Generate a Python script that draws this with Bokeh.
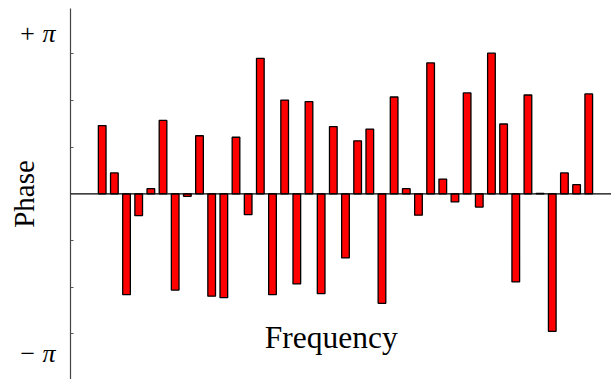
import math
from bokeh.plotting import figure
from bokeh.models import Range1d, FixedTicker, Span, Label, ColumnDataSource
from bokeh.embed import file_html
from bokeh.resources import INLINE

# Phase (radians) of each frequency component
frequency = list(range(1, 42))
phase = [1.34, 0.41, -1.98, -0.43, 0.10, 1.44, -1.89, -0.05, 1.14, -2.01,
         -2.04, 1.11, -0.41, 2.66, -1.98, 1.84, -1.77, 1.81, -1.96, 1.32,
         -1.26, 1.04, 1.27, -2.15, 1.90, 0.10, -0.42, 2.57, 0.29, -0.16,
         1.98, -0.26, 2.76, 1.37, -1.73, 1.94, 0.01, -2.70, 0.41, 0.18,
         1.96]

tick_values = [-math.pi, math.pi]
tick_labels = ["\u2212 \u03c0", "+ \u03c0"]

SERIF = "Liberation Serif"

source = ColumnDataSource(dict(freq=frequency, phase=phase))

p = figure(width=611, height=379, output_backend="svg", toolbar_location=None,
           x_range=Range1d(-1.606, 42.87), y_range=Range1d(-3.646, 3.638),
           min_border_left=70, min_border_right=0, min_border_top=8,
           min_border_bottom=0)
p.outline_line_color = None
p.grid.visible = False
p.xaxis.visible = False

# horizontal axis through zero
p.add_layout(Span(location=0, dimension="width", line_color="black",
                  line_width=1.2))

p.vbar(x="freq", top="phase", bottom=0, width=0.63, source=source,
       fill_color="#ff0000", line_color="black", line_width=1.3)

yax = p.yaxis[0]
minor = [k * 0.9163 for k in (-3, -2, -1, 1, 2, 3)]
yax.ticker = FixedTicker(ticks=tick_values, minor_ticks=minor)
yax.major_label_overrides = {v: t for v, t in zip(tick_values, tick_labels)}
yax.major_tick_in = 0
yax.major_tick_out = 0
yax.minor_tick_in = 3
yax.minor_tick_out = 0
yax.minor_tick_line_color = "#555555"
yax.axis_line_color = "#444444"
yax.axis_line_width = 1.2
yax.major_label_standoff = 15
yax.major_label_text_font = SERIF
yax.major_label_text_font_style = "italic"
yax.major_label_text_font_size = "26px"
yax.major_label_text_color = "black"

# vertical axis title sits beside the tick labels
yax.axis_label = "Phase"
yax.axis_label_text_font = SERIF
yax.axis_label_text_font_style = "normal"
yax.axis_label_text_font_size = "29px"
yax.axis_label_text_color = "black"
yax.axis_label_standoff = -25

# horizontal axis title inside the plot area
xmid = (p.x_range.start + p.x_range.end) / 2
p.add_layout(Label(x=xmid - 0.8, y=-2.82, text="Frequency", text_font=SERIF,
                   text_font_size="31.5px", text_align="center",
                   text_baseline="alphabetic", text_color="black"))

open("out.html", "w").write(file_html(p, INLINE))
